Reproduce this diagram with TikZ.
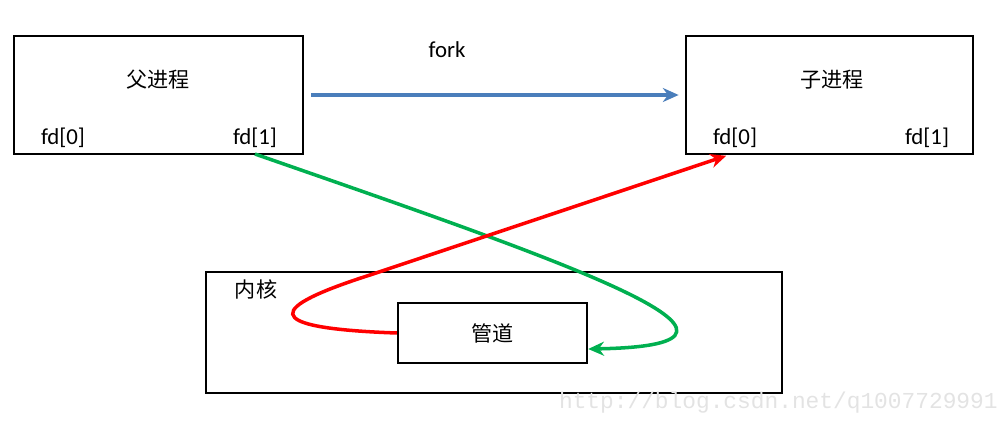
\documentclass[tikz,border=0pt]{standalone}
\usepackage{fontspec}
\setmainfont{Carlito}
\newfontfamily\cjk{Noto Sans CJK SC}
\newfontfamily\wmfont{Liberation Mono}
\usetikzlibrary{arrows.meta}
\definecolor{forkblue}{HTML}{4A7EBB}
\definecolor{pipegreen}{HTML}{00B050}
\definecolor{pipered}{HTML}{FF0000}
\begin{document}
\begin{tikzpicture}[x=0.02cm,y=-0.02cm,
  box/.style={draw, line width=1.4pt, inner sep=0pt},
  lbl/.style={font=\fontsize{13}{15}\selectfont},
  zh/.style={font=\cjk\fontsize{12}{14}\selectfont},
  link/.style={line width=2pt, -{Stealth[length=9pt,width=8pt]}}]
\useasboundingbox (0,0) rectangle (998,420);

% process boxes
\node[box, minimum width=5.78cm, minimum height=2.36cm] (parent) at (158.5,95) {};
\node[box, minimum width=5.74cm, minimum height=2.36cm] (child) at (829.5,95) {};
\node[zh] (ptitle) at (158,80) {父进程};
\node[zh] (ctitle) at (832,80) {子进程};

% file descriptors
\node[lbl] (pfd0) at (63,138) {fd[0]};
\node[lbl] (pfd1) at (255,138) {fd[1]};
\node[lbl] (cfd0) at (735,138) {fd[0]};
\node[lbl] (cfd1) at (927,138) {fd[1]};

% fork arrow
\node[lbl] (forklbl) at (447,50) {fork};
\draw[link, forkblue, shorten <=4pt, shorten >=3.5pt] (parent.east) -- (child.west);

% kernel with the pipe inside
\node[box, minimum width=11.52cm, minimum height=2.42cm] (kernel) at (494,332.5) {};
\node[zh] (ktitle) at (256,289) {内核};
\node[box, zh, minimum width=3.78cm, minimum height=1.2cm] (pipe) at (492.5,333) {管道};

% write end into the pipe, read end out of it
\draw[link, pipegreen] (pfd1.south) .. controls (560,260) and (810,345) .. ([yshift=-0.32cm]pipe.east);
\draw[link, pipered] (pipe.west) .. controls (255,328) and (270,307) .. (370,275) -- ([xshift=-5pt,yshift=-1pt]cfd0.south);

% watermark
\node[text=gray!22, font=\wmfont\fontsize{13}{15}\selectfont, anchor=east, inner sep=0pt] (watermark) at (998,403) {http://blog.csdn.net/q1007729991};
\end{tikzpicture}
\end{document}
